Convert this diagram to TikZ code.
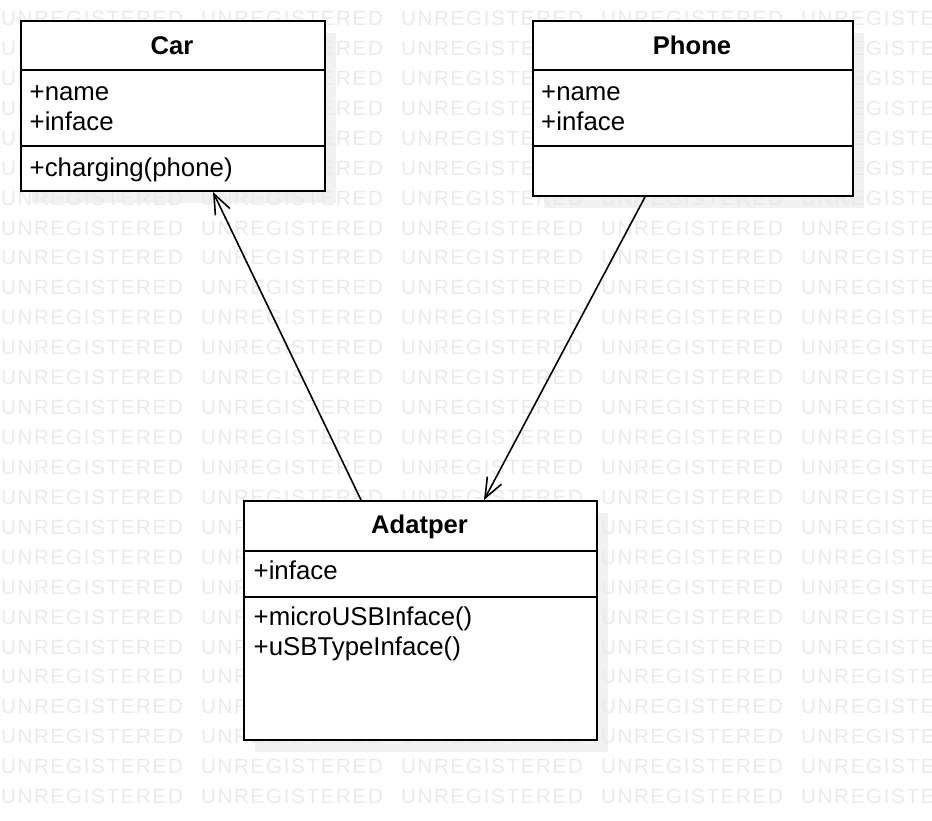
\documentclass[tikz,border=0pt]{standalone}
\usepackage{fontspec}
\setmainfont{Liberation Sans}
\newfontfamily\wmfont[LetterSpace=8]{Liberation Sans}
\usetikzlibrary{arrows.meta,calc}
\definecolor{wmgray}{HTML}{EAEAEA}
\definecolor{shgray}{HTML}{F1F1F1}
\begin{document}
\begin{tikzpicture}[x=1pt,y=-1pt,
  box/.style={draw=black, line width=2pt, fill=white, rectangle, inner sep=0pt, anchor=north west},
  div/.style={line width=2pt},
  txt/.style={anchor=base west, inner sep=0pt, font=\fontsize{25.8}{30}\selectfont},
  ttl/.style={anchor=base, inner sep=0pt, font=\fontsize{25.6}{30}\selectfont\bfseries},
  wm/.style={anchor=base west, inner sep=0pt, text=wmgray, font=\wmfont\fontsize{20.6}{21}\selectfont},
  arr/.style={line width=1.6pt, -{Straight Barb[length=20pt,width=16pt,line width=1.6pt]}}]
\useasboundingbox (0,0) rectangle (932,820);
\clip (0,0) rectangle (932,820);
\fill[white] (0,0) rectangle (932,820);
% shadows
\fill[shgray] (32,33) rectangle (336,203);
\fill[shgray] (544,33) rectangle (864,208);
\fill[shgray] (255,513) rectangle (608,752);
% watermark
\foreach \k in {0,...,27} {
  \foreach \j in {0,...,4} {
    \node[wm] (wm-\j-\k) at (1+200*\j, 25.5+29.93*\k-29.93) {UNREGISTERED};
  }
}
% Car
\node[box, minimum width=304pt, minimum height=170pt] (car) at (20,20) {};
\draw[div] (20,70) -- (324,70);
\draw[div] (20,146) -- (324,146);
\node[ttl] (carT) at (172,54) {Car};
\node[txt] (carA1) at (29.5,100) {+name};
\node[txt] (carA2) at (29.5,130) {+inface};
\node[txt] (carM1) at (29.5,176) {+charging(phone)};
% Phone
\node[box, minimum width=320pt, minimum height=175pt] (phone) at (532,20) {};
\draw[div] (532,70) -- (852,70);
\draw[div] (532,146) -- (852,146);
\node[ttl] (phoneT) at (692,54) {Phone};
\node[txt] (phoneA1) at (541,100) {+name};
\node[txt] (phoneA2) at (541,130) {+inface};
% Adatper
\node[box, minimum width=353pt, minimum height=239pt] (adp) at (243,500) {};
\draw[div] (243,551) -- (596,551);
\draw[div] (243,597) -- (596,597);
\node[ttl] (adpT) at (419.5,533) {Adatper};
\node[txt] (adpA1) at (253.5,579) {+inface};
\node[txt] (adpM1) at (253.5,625) {+microUSBInface()};
\node[txt] (adpM2) at (253.5,655) {+uSBTypeInface()};
% connectors
\draw[arr] ([xshift=118pt]adp.north west) -- ([xshift=193pt]car.south west);
\draw[arr] ([xshift=113pt]phone.south west) -- ([xshift=241pt]adp.north west);
\end{tikzpicture}
\end{document}
